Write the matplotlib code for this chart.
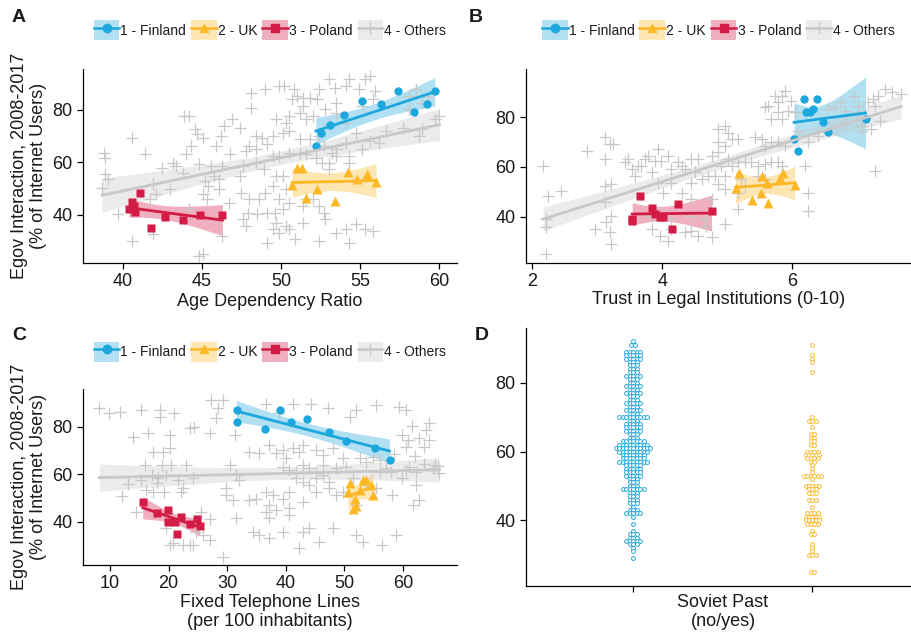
import numpy as np
import matplotlib.pyplot as plt
from matplotlib.patches import Patch
from matplotlib.lines import Line2D

plt.rcParams['font.family'] = ['Liberation Sans', 'DejaVu Sans']
plt.rcParams['text.color'] = '#1a1a1a'

# ---- groups ----
group_names = ['1 - Finland', '2 - UK', '3 - Poland', '4 - Others']
group_colors = ['#1DA7DC', '#FDB827', '#D21B45', '#C8C8C8']
group_markers = ['o', '^', 's', '+']

# egov interaction per year (2008-2017), same in every panel
fin_egov = [66.2, 71.0, 74.2, 78.0, 83.3, 82.0, 87.2, 79.2, 82.0, 87.2]
uk_egov = [51.4, 57.7, 57.7, 46.5, 49.7, 45.4, 56.4, 53.5, 55.6, 52.6]
pol_egov = [48.2, 45.0, 43.5, 41.2, 42.1, 34.9, 39.1, 38.1, 40.0, 40.0]

# panel A: age dependency ratio
fin_age = [52.2, 52.5, 53.1, 54.0, 55.1, 56.3, 57.4, 58.4, 59.2, 59.7]
uk_age = [50.7, 51.0, 51.3, 51.6, 52.3, 53.4, 54.2, 54.8, 55.4, 56.0]
pol_age = [41.1, 40.6, 40.7, 40.8, 40.4, 41.8, 42.7, 43.8, 44.9, 46.3]

# panel B: trust in legal institutions
fin_trust = [6.09, 6.03, 6.56, 6.47, 6.32, 6.22, 6.18, 7.13, 6.28, 6.38]
uk_trust = [5.13, 5.19, 5.86, 5.39, 5.52, 5.63, 5.53, 5.61, 5.81, 6.04]
pol_trust = [3.66, 4.25, 3.85, 3.89, 4.76, 4.15, 3.54, 3.54, 3.97, 4.02]

# panel C: fixed telephone lines
fin_phone = [57.7, 55.2, 50.3, 47.4, 43.7, 40.9, 39.0, 36.4, 31.6, 31.6]
uk_phone = [54.9, 53.7, 53.2, 52.0, 51.8, 51.5, 50.9, 52.6, 54.5, 50.6]
pol_phone = [15.6, 19.9, 18.0, 24.8, 22.2, 21.5, 23.6, 25.3, 21.1, 19.9]

# others: (x, egov) pairs
others_age = [
    (48.1, 86.5), (49.0, 88.0), (48.1, 80.8), (43.9, 77.6), (44.2, 77.6), (46.9, 76.3),
    (46.4, 73.8), (47.4, 73.2), (44.6, 72.5), (45.1, 69.4), (44.7, 70.6), (46.2, 70.0),
    (40.6, 69.4), (44.3, 66.2), (45.9, 66.2), (46.8, 63.0), (44.0, 63.0), (41.4, 63.0),
    (38.8, 63.7), (38.9, 61.8), (48.4, 70.0), (48.8, 69.4), (48.0, 66.2), (47.8, 64.3),
    (48.4, 64.9), (49.1, 66.8), (42.5, 58.0), (43.2, 59.9), (43.4, 58.6), (43.8, 56.1),
    (44.8, 59.2), (45.6, 58.6), (46.3, 58.6), (45.8, 54.8), (45.2, 52.9), (45.4, 51.0),
    (46.1, 53.5), (47.4, 54.8), (47.6, 58.6), (48.4, 59.9), (48.9, 57.3), (38.9, 55.4),
    (39.1, 53.5), (38.7, 50.4), (41.9, 51.6), (43.0, 49.7), (42.1, 47.8), (45.1, 47.8),
    (45.3, 45.9), (46.1, 49.7), (46.7, 44.7), (47.5, 48.5), (48.0, 45.9), (48.6, 45.9),
    (49.0, 48.5), (47.9, 40.9), (47.6, 38.3), (49.1, 40.9), (39.7, 40.2), (41.7, 45.9),
    (41.9, 32.6), (40.6, 30.1), (44.2, 42.1), (46.3, 32.0), (45.1, 25.0), (44.8, 24.4),
    (47.8, 35.8), (48.5, 40.2), (49.1, 29.4),
    (49.9, 89.0), (50.2, 89.0), (50.8, 87.7), (51.0, 85.2), (50.7, 83.9), (51.4, 84.6),
    (51.8, 84.6), (52.4, 87.7), (52.3, 83.9), (53.0, 91.6), (53.4, 88.4), (53.5, 82.7),
    (54.1, 89.0), (54.3, 91.6), (54.9, 87.7), (55.3, 91.6), (55.6, 92.8), (55.9, 87.1),
    (55.1, 81.4), (55.8, 83.9), (52.8, 80.2), (53.5, 78.9), (51.4, 81.4), (51.2, 78.9),
    (50.5, 77.6), (50.3, 75.1), (49.7, 76.3), (51.6, 76.3), (52.0, 77.6), (53.0, 74.4),
    (54.1, 75.1), (49.5, 70.0), (50.1, 71.3), (50.5, 71.9), (51.2, 68.7), (51.8, 68.7),
    (52.4, 70.0), (52.7, 66.2), (53.5, 64.9), (54.1, 67.5), (54.7, 71.3), (55.1, 64.9),
    (49.5, 62.4), (49.9, 62.4), (50.5, 63.7), (51.2, 63.0), (51.6, 63.0), (52.2, 61.8),
    (52.6, 59.9), (53.0, 59.9), (53.5, 62.4), (54.3, 62.4), (53.0, 57.3), (53.2, 63.7),
    (54.3, 59.9), (56.6, 71.9), (57.7, 73.2), (58.9, 72.5), (59.7, 76.3), (60.0, 77.6),
    (55.6, 68.1), (56.2, 67.5), (58.7, 70.0), (58.1, 85.2), (58.5, 87.7), (58.9, 82.7),
    (59.3, 85.2), (58.1, 80.2), (49.7, 54.8), (50.1, 54.8), (49.5, 51.0), (50.3, 49.7),
    (49.9, 45.9), (50.5, 44.7), (50.1, 42.1), (51.6, 45.9), (51.4, 43.4), (52.0, 45.9),
    (52.4, 43.4), (52.7, 40.9), (52.8, 38.3), (49.6, 40.9), (49.7, 37.0), (50.3, 35.8),
    (49.9, 33.2), (50.5, 34.5), (51.4, 37.0), (50.9, 30.7), (52.4, 30.2), (53.5, 33.2),
    (54.1, 34.5), (54.7, 36.4), (55.3, 34.5), (55.8, 33.9), (54.3, 29.4), (49.5, 34.5),
]

others_trust = [
    (2.17, 60.4), (2.25, 48.4), (2.45, 50.4), (2.22, 39.0), (2.22, 35.7), (2.22, 25.0),
    (2.84, 66.5), (3.12, 71.8), (3.20, 69.1), (3.25, 69.1), (3.12, 63.1), (3.12, 52.4),
    (3.22, 53.1), (3.12, 45.7), (3.22, 40.4), (3.14, 37.7), (2.96, 35.0), (3.20, 33.7),
    (3.22, 29.0), (3.43, 61.8), (3.48, 63.1), (3.53, 59.1), (3.63, 60.4), (3.73, 63.1),
    (3.78, 64.5), (3.89, 62.4), (3.99, 62.4), (3.84, 57.8), (3.94, 53.7), (4.02, 49.7),
    (4.14, 53.7), (4.14, 59.1), (4.25, 61.8), (4.30, 60.4), (4.35, 59.1), (4.45, 63.1),
    (4.55, 63.1), (4.50, 57.8), (4.61, 55.1), (4.71, 56.4), (4.30, 49.7), (4.45, 47.1),
    (3.84, 35.0), (3.96, 32.3), (4.09, 30.3), (4.14, 35.0), (4.35, 33.7), (4.45, 34.3),
    (4.55, 32.3), (4.68, 36.3), (4.76, 31.7), (4.45, 40.4), (4.66, 39.0), (4.76, 47.1),
    (4.86, 75.2), (4.96, 76.5), (5.02, 73.8), (4.86, 69.8), (4.96, 68.5), (5.07, 71.1),
    (5.17, 71.1), (4.76, 64.5), (4.86, 65.8), (4.91, 60.4), (5.02, 63.1), (5.07, 60.4),
    (5.17, 61.8), (5.27, 61.8), (4.81, 56.4), (4.96, 56.4), (4.86, 53.1), (4.96, 51.1),
    (5.17, 49.7), (4.96, 37.0), (5.17, 43.0), (5.43, 71.8), (5.53, 71.1), (5.37, 61.8),
    (5.48, 60.4), (5.58, 61.1), (5.68, 61.8), (5.79, 61.8), (5.84, 60.4), (5.58, 68.5),
    (5.68, 69.8), (5.79, 69.8), (5.89, 68.5), (5.68, 79.2), (5.79, 81.9), (5.79, 85.9),
    (5.84, 88.6), (5.89, 90.6), (5.73, 88.6), (5.63, 84.5), (5.58, 83.9), (5.99, 86.5),
    (5.94, 82.5), (5.84, 79.2), (6.04, 81.9), (6.20, 60.4), (6.25, 49.7), (6.25, 42.4),
    (6.55, 83.2), (6.76, 85.9), (6.96, 88.6), (7.02, 84.5), (7.17, 85.9), (7.27, 84.5),
    (7.32, 88.6), (7.43, 91.2), (7.53, 89.9), (7.68, 89.2), (7.22, 75.2), (7.02, 81.9),
    (6.81, 77.8), (7.07, 76.5), (7.07, 74.5), (7.27, 58.4), (6.25, 69.8), (6.09, 74.5),
    (6.40, 72.5), (6.66, 83.9), (6.81, 82.5), (7.36, 78.5), (7.25, 87.2), (5.48, 56.4),
    (5.58, 55.1), (5.22, 55.1), (5.27, 52.4), (3.84, 40.4), (4.14, 39.0), (3.94, 67.1),
    (4.09, 64.5), (3.68, 60.4), (3.58, 56.4), (4.45, 53.7),
]

others_phone = [
    (8.2, 87.7), (9.9, 85.6), (11.7, 86.3), (15.3, 87.0), (18.5, 87.0), (18.5, 84.2),
    (21.0, 85.6), (27.3, 91.2), (29.3, 91.2), (28.4, 87.7), (28.1, 83.5), (13.9, 75.8),
    (16.5, 77.2), (20.2, 76.5), (23.6, 79.3), (24.4, 80.0), (27.0, 77.2), (31.3, 76.5),
    (36.7, 89.8), (38.9, 85.6), (41.2, 89.8), (44.3, 89.8), (47.2, 87.7), (50.9, 84.2),
    (52.0, 87.0), (55.4, 89.1), (59.4, 88.4), (60.5, 87.0), (64.5, 81.4), (59.9, 76.5),
    (60.8, 74.4), (62.8, 75.1), (64.5, 74.4), (60.5, 71.6), (63.6, 71.6), (17.3, 69.5),
    (19.0, 69.5), (20.2, 70.9), (15.9, 63.9), (18.8, 63.9), (20.5, 63.9), (23.0, 63.9),
    (17.1, 59.7), (19.6, 59.7), (15.3, 57.6), (18.2, 58.3), (21.6, 57.6), (24.2, 58.3),
    (16.2, 53.3), (17.3, 52.7), (19.3, 52.7), (22.4, 54.1), (30.4, 63.9), (31.5, 59.7),
    (32.1, 57.6), (33.8, 69.5), (35.5, 68.8), (37.2, 72.3), (38.4, 68.8), (39.5, 70.2),
    (40.1, 66.7), (41.2, 70.9), (42.3, 69.5), (42.9, 72.3), (45.2, 70.2), (46.3, 68.1),
    (48.0, 70.9), (49.7, 66.7), (39.5, 63.2), (40.6, 61.8), (41.8, 61.1), (42.9, 63.9),
    (44.0, 62.5), (45.2, 61.1), (46.3, 63.9), (41.8, 58.3), (42.9, 56.9), (44.0, 55.5),
    (45.2, 58.3), (46.3, 59.7), (47.4, 56.9), (48.6, 62.5), (50.3, 63.2), (52.6, 66.7),
    (53.7, 65.3), (54.8, 67.4), (56.0, 61.1), (57.1, 62.5), (59.9, 58.3), (62.2, 61.1),
    (65.1, 62.5), (66.2, 60.4), (29.8, 54.1), (29.8, 51.2), (31.0, 49.1), (33.8, 49.1),
    (34.9, 49.8), (36.7, 52.7), (37.8, 51.2), (39.5, 49.8), (40.6, 52.7), (37.2, 47.0),
    (36.7, 44.2), (38.4, 44.9), (40.6, 45.6), (42.9, 48.4), (37.2, 41.4), (40.6, 42.8),
    (45.2, 52.7), (47.4, 54.1), (48.6, 51.2), (49.7, 52.7), (52.0, 47.0), (58.2, 51.2),
    (62.2, 55.5), (31.5, 41.4), (34.4, 35.8), (35.5, 34.4), (37.2, 33.0), (39.5, 35.8),
    (42.9, 35.8), (44.0, 37.2), (42.3, 28.8), (45.7, 31.6), (48.0, 37.2), (52.0, 34.4),
    (53.1, 31.6), (56.5, 30.2), (58.8, 34.4), (61.7, 47.0), (62.8, 49.1), (20.2, 30.2),
    (22.4, 30.2), (24.2, 30.2), (27.0, 32.3), (29.3, 25.3), (19.6, 37.2), (24.7, 35.8),
    (25.9, 34.4), (51.4, 58.3), (53.7, 55.5), (55.4, 54.1),
    (61.0, 63.0), (63.5, 64.5), (65.5, 64.0), (58.0, 61.0), (60.5, 62.0), (56.0, 66.0),
    (64.0, 78.5), (61.5, 80.5), (14.5, 44.0), (12.0, 51.0), (25.6, 44.2), (27.0, 41.0),
    (22.2, 52.6), (13.0, 56.0), (66.0, 63.5), (62.0, 67.5), (58.5, 68.5), (18.0, 56.2),
    (20.8, 30.9), (23.6, 30.2),
]

# panel D: dot plot bins (egov value, number of dots)
soviet_no_vals = [92, 91, 89, 88, 87, 86, 85, 84, 83, 82, 81, 80, 79, 78, 77, 76, 75, 74,
                  73, 72, 71, 70, 69, 68, 67, 66, 65, 64, 63, 62, 61, 60, 59, 58, 57, 56,
                  55, 54, 53, 52, 51, 50, 49, 48, 47, 46, 45, 44, 43, 42, 41, 39, 37, 36,
                  35, 34, 33, 32, 31, 29]
soviet_no_counts = [1, 2, 5, 5, 5, 3, 3, 3, 3, 5, 3, 3, 5, 3, 5, 3, 3, 5,
                    3, 5, 3, 9, 3, 5, 5, 5, 3, 3, 7, 9, 11, 9, 7, 7, 9, 5,
                    5, 5, 5, 3, 3, 3, 7, 3, 3, 3, 3, 1, 3, 5, 1, 1, 1, 3,
                    3, 5, 3, 1, 1, 1]
soviet_yes_vals = [91, 88, 87, 86, 83, 70, 69, 67, 65, 64, 63, 62, 60, 59, 58, 57, 56, 55,
                   54, 53, 52, 50, 49, 48, 46, 44, 42, 41, 40, 39, 37, 36, 33, 32, 31, 30, 25]
soviet_yes_counts = [1, 1, 1, 1, 1, 1, 3, 1, 2, 2, 2, 2, 4, 5, 4, 2, 1, 1,
                     1, 6, 1, 5, 3, 3, 3, 1, 4, 5, 5, 4, 1, 2, 1, 1, 1, 3, 2]

ylab = 'Egov Interaction, 2008-2017\n(% of Internet Users)'
T95 = {8: 2.306}


def fit_band(x, y):
    x = np.asarray(x, float)
    y = np.asarray(y, float)
    b, a = np.polyfit(x, y, 1)
    xs = np.linspace(x.min(), x.max(), 80)
    yh = a + b * xs
    df = len(x) - 2
    s = np.sqrt(np.sum((y - (a + b * x)) ** 2) / df)
    se = s * np.sqrt(1 / len(x) + (xs - x.mean()) ** 2 / np.sum((x - x.mean()) ** 2))
    t = T95.get(df, 1.975)
    return xs, yh, yh - t * se, yh + t * se


def style(ax):
    for s in ['top', 'right']:
        ax.spines[s].set_visible(False)
    for s in ['left', 'bottom']:
        ax.spines[s].set_linewidth(0.9)
        ax.spines[s].set_color('black')
    ax.tick_params(length=4, width=0.9, labelsize=13, colors='black', labelcolor='#1a1a1a')


def scatter_panel(ax, xs_groups, others):
    ox = [p[0] for p in others]
    oy = [p[1] for p in others]
    ax.plot(ox, oy, ls='none', marker='+', ms=8, mew=0.9, color=group_colors[3])
    ys_groups = [fin_egov, uk_egov, pol_egov]
    sizes = [6, 6.5, 5.5]
    for gx, gy, col, mk, ms in zip(xs_groups, ys_groups, group_colors, group_markers, sizes):
        ax.plot(gx, gy, ls='none', marker=mk, ms=ms, color=col, mec='none')
    for gx, gy, col in zip(xs_groups + [ox], ys_groups + [oy], group_colors):
        xs, yh, lo, hi = fit_band(gx, gy)
        ax.fill_between(xs, lo, hi, color=col, alpha=0.35, lw=0)
        ax.plot(xs, yh, color=col, lw=2)


def add_legend(ax, y):
    handles = []
    for col, mk in zip(group_colors, group_markers):
        box = Patch(facecolor=col, alpha=0.35, edgecolor='none')
        ln = Line2D([], [], color=col, lw=1.8, marker=mk, ms=6 if mk != '+' else 8, mew=1)
        handles.append((box, ln))
    ax.legend(handles, group_names, loc='center', bbox_to_anchor=(0.5, y), ncol=4,
              frameon=False, fontsize=10, handlelength=1.85, handleheight=1.8,
              handletextpad=0.08, columnspacing=0.35, borderaxespad=0, borderpad=0)


fig = plt.figure(figsize=(9.12, 6.37), dpi=100)
axA = fig.add_axes([0.091, 0.5871, 0.410, 0.3046])
axB = fig.add_axes([0.5764, 0.5871, 0.4225, 0.3046])
axC = fig.add_axes([0.091, 0.1130, 0.410, 0.2763])
axD = fig.add_axes([0.5764, 0.0805, 0.4225, 0.4046])

# A
scatter_panel(axA, [fin_age, uk_age, pol_age], others_age)
axA.set_xlim(37.5, 61.1)
axA.set_ylim(21.7, 95.5)
axA.set_xticks([40, 45, 50, 55, 60])
axA.set_yticks([40, 60, 80])
style(axA)
add_legend(axA, 1.2)

# B
scatter_panel(axB, [fin_trust, uk_trust, pol_trust], others_trust)
axB.set_xlim(1.9, 7.83)
axB.set_ylim(21.4, 99.3)
axB.set_xticks([2, 4, 6])
axB.set_yticks([40, 60, 80])
style(axB)
add_legend(axB, 1.2)

# C
scatter_panel(axC, [fin_phone, uk_phone, pol_phone], others_phone)
axC.set_xlim(5.4, 69.2)
axC.set_ylim(21.8, 95.9)
axC.set_xticks([10, 20, 30, 40, 50, 60])
axC.set_yticks([40, 60, 80])
style(axC)
add_legend(axC, 1.212)

# D: centred dot plot, binwidth 1
axD.set_xlim(0.4, 2.55)
axD.set_ylim(21, 95.9)
fig_w, fig_h = fig.get_size_inches() * fig.dpi
bb = axD.get_position()
px_x = bb.width * fig_w / (2.55 - 0.4)
px_y = bb.height * fig_h / (95.9 - 21)
dx = px_y / px_x
for xc, vals, counts, col in [(1, soviet_no_vals, soviet_no_counts, group_colors[0]),
                              (2, soviet_yes_vals, soviet_yes_counts, group_colors[1])]:
    xs, ys = [], []
    for v, c in zip(vals, counts):
        xs.extend(xc + (np.arange(c) - (c - 1) / 2) * dx)
        ys.extend([v] * c)
    axD.plot(xs, ys, ls='none', marker='o', ms=2.8, mfc='white', mec=col, mew=0.65)
axD.set_xticks([1, 2])
axD.set_xticklabels(['', ''])
axD.set_yticks([40, 60, 80])
style(axD)

# labels
fig.text(29 / 912, 0.7394, ylab, rotation=90, ha='center', va='center', fontsize=13, linespacing=1.1)
fig.text(29 / 912, 0.2512, ylab, rotation=90, ha='center', va='center', fontsize=13, linespacing=1.1)
fig.text(0.296, 1 - 301 / 637, 'Age Dependency Ratio', ha='center', va='center', fontsize=13)
fig.text(0.7876, 1 - 300 / 637, 'Trust in Legal Institutions (0-10)', ha='center', va='center', fontsize=13)
fig.text(0.296, 1 - 612 / 637, 'Fixed Telephone Lines\n(per 100 inhabitants)', ha='center', va='center',
         fontsize=13, linespacing=1.1)
fig.text(723 / 912, 1 - 612 / 637, 'Soviet Past\n(no/yes)', ha='center', va='center', fontsize=13,
         linespacing=1.1)
for lab, x, y in [('A', 19, 17), ('B', 476, 17), ('C', 19, 335), ('D', 482, 336)]:
    fig.text(x / 912, 1 - y / 637, lab, ha='center', va='center', fontsize=14, fontweight='bold')

fig.savefig('out.png', dpi=100)
